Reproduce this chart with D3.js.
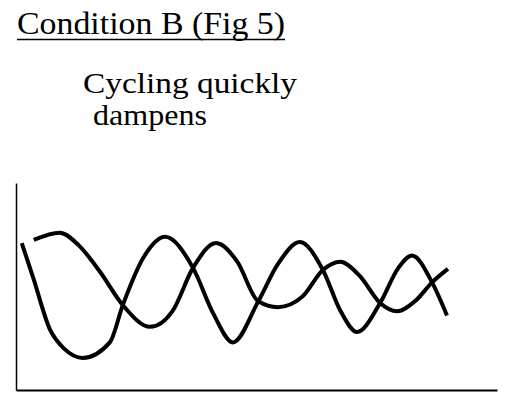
<!DOCTYPE html>
<html>
<head>
<meta charset="utf-8">
<script src="https://cdn.jsdelivr.net/npm/d3@7"></script>
<style>
  body { margin: 0; background: #fff; }
  svg { display: block; }
  .title { font-family: "Liberation Serif", "DejaVu Serif", serif; fill: #000; }
</style>
</head>
<body>
<div id="chart"></div>
<script>
// chart data (time in arbitrary units, level in arbitrary units)
var titleText = "Condition B (Fig 5)";
var noteLines = ["Cycling quickly", "dampens"];

var timeA  = [1.2, 3.6, 7.1, 10.0, 13.9, 19.5, 22.2, 26.5, 31.0, 36.8, 41.0, 45.1, 50.3, 54.5, 59.0, 63.8, 67.5, 70.9, 75.7, 79.5, 82.3, 86.5, 89.6];
var levelA = [71, 54, 29, 20, 15.5, 23, 41, 64, 74, 59, 37, 23, 42.5, 61, 71.5, 58, 38, 28, 42, 59, 65, 52, 36];

var timeB  = [3.7, 9.1, 13.0, 17.5, 22.2, 27.9, 32.5, 36.8, 41.6, 46.0, 50.3, 54.5, 59.5, 63.8, 67.4, 71.5, 75.7, 79.2, 83.0, 86.5, 89.8];
var levelB = [72.5, 76, 70, 57, 41, 30.5, 38, 59, 71, 62, 43, 40, 45, 58, 62, 55, 42, 38, 43, 52, 58.5];

var svgWidth = 514;
var svgHeight = 407;

var svg = d3.select("#chart")
    .append("svg")
    .attr("width", svgWidth)
    .attr("height", svgHeight);

// title + underline
svg.append("text")
    .attr("class", "title")
    .attr("x", 17)
    .attr("y", 34)
    .attr("font-size", 32)
    .attr("textLength", 268)
    .attr("lengthAdjust", "spacingAndGlyphs")
    .text(titleText);

svg.append("line")
    .attr("x1", 17).attr("x2", 285)
    .attr("y1", 39.5).attr("y2", 39.5)
    .attr("stroke", "#000")
    .attr("stroke-width", 1.5);

// note text
svg.append("text")
    .attr("class", "title")
    .attr("x", 83)
    .attr("y", 93)
    .attr("font-size", 30)
    .attr("textLength", 214)
    .attr("lengthAdjust", "spacingAndGlyphs")
    .text(noteLines[0]);

svg.append("text")
    .attr("class", "title")
    .attr("x", 93)
    .attr("y", 125)
    .attr("font-size", 30)
    .attr("textLength", 114)
    .attr("lengthAdjust", "spacingAndGlyphs")
    .text(noteLines[1]);

// scales
var xScale = d3.scaleLinear().domain([0, 100]).range([16, 497]);
var yScale = d3.scaleLinear().domain([0, 100]).range([390, 183]);

// axes, no labels
var chartGroup = svg.append("g");

chartGroup.append("g")
    .attr("transform", "translate(16,0)")
    .call(d3.axisLeft(yScale).ticks(0).tickSizeOuter(0))
    .call(g => g.select(".domain").attr("stroke-width", 1.5));

chartGroup.append("g")
    .attr("transform", "translate(0,390)")
    .call(d3.axisBottom(xScale).ticks(0).tickSizeOuter(0))
    .call(g => g.select(".domain").attr("stroke-width", 2));

var line = d3.line()
    .x(d => xScale(d[0]))
    .y(d => yScale(d[1]))
    .curve(d3.curveMonotoneX);

var seriesA = d3.zip(timeA, levelA);
var seriesB = d3.zip(timeB, levelB);

chartGroup.selectAll(".series")
    .data([seriesA, seriesB])
    .enter()
    .append("path")
    .attr("class", "series")
    .attr("d", line)
    .attr("fill", "none")
    .attr("stroke", "#000")
    .attr("stroke-width", 4);
</script>
</body>
</html>
